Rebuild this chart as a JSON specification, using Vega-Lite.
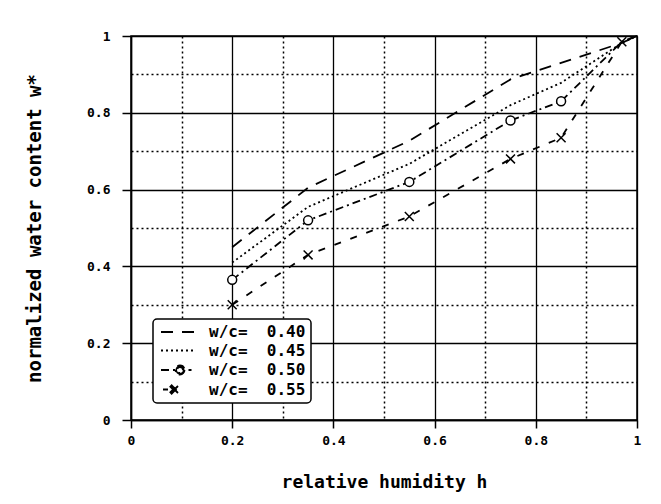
{
  "$schema": "https://vega.github.io/schema/vega-lite/v6.json",
  "width": 506,
  "height": 384,
  "autosize": "none",
  "padding": {"left": 131, "top": 36, "right": 24, "bottom": 84},
  "background": "white",
  "config": {
    "view": {"stroke": "black", "strokeWidth": 1.5},
    "font": "DejaVu Sans Mono"
  },
  "data": {
    "values": [
      {"s": "0.40", "h": 0.2, "w": 0.45},
      {"s": "0.40", "h": 0.35, "w": 0.605},
      {"s": "0.40", "h": 0.55, "w": 0.727},
      {"s": "0.40", "h": 0.75, "w": 0.887},
      {"s": "0.40", "h": 0.85, "w": 0.93},
      {"s": "0.40", "h": 0.97, "w": 0.982},
      {"s": "0.40", "h": 1.0, "w": 1.0},
      {"s": "0.45", "h": 0.2, "w": 0.41},
      {"s": "0.45", "h": 0.35, "w": 0.555},
      {"s": "0.45", "h": 0.55, "w": 0.667},
      {"s": "0.45", "h": 0.75, "w": 0.82},
      {"s": "0.45", "h": 0.85, "w": 0.878},
      {"s": "0.45", "h": 0.97, "w": 0.982},
      {"s": "0.45", "h": 1.0, "w": 1.0},
      {"s": "0.50", "h": 0.2, "w": 0.365},
      {"s": "0.50", "h": 0.35, "w": 0.52},
      {"s": "0.50", "h": 0.55, "w": 0.62},
      {"s": "0.50", "h": 0.75, "w": 0.78},
      {"s": "0.50", "h": 0.85, "w": 0.83},
      {"s": "0.50", "h": 0.97, "w": 0.985},
      {"s": "0.50", "h": 1.0, "w": 1.0},
      {"s": "0.55", "h": 0.2, "w": 0.3},
      {"s": "0.55", "h": 0.35, "w": 0.43},
      {"s": "0.55", "h": 0.55, "w": 0.53},
      {"s": "0.55", "h": 0.75, "w": 0.68},
      {"s": "0.55", "h": 0.85, "w": 0.735},
      {"s": "0.55", "h": 0.97, "w": 0.985},
      {"s": "0.55", "h": 1.0, "w": 1.0}
    ]
  },
  "encoding": {
    "x": {
      "field": "h",
      "type": "quantitative",
      "scale": {"domain": [0, 1], "nice": false},
      "axis": {
        "title": "relative humidity h",
        "titleFont": "DejaVu Sans Mono",
        "titleFontSize": 18,
        "titleFontWeight": "bold",
        "titleColor": "black",
        "titlePadding": 26,
        "values": [0, 0.1, 0.2, 0.3, 0.4, 0.5, 0.6, 0.7, 0.8, 0.9, 1.0],
        "labelExpr": "round(datum.value*10) % 2 === 0 ? format(datum.value, '~g') : ''",
        "labelFont": "DejaVu Sans Mono",
        "labelFontSize": 13,
        "labelFontWeight": "bold",
        "labelColor": "black",
        "labelPadding": 6,
        "labelFlush": false,
        "grid": true,
        "gridColor": "black",
        "gridOpacity": 1,
        "gridDash": {"condition": {"test": "round(datum.value*10) % 2 === 1", "value": [2, 3]}, "value": []},
        "gridWidth": {"condition": {"test": "round(datum.value*10) % 2 === 1", "value": 1.5}, "value": 1.3},
        "tickColor": "black",
        "tickSize": 8,
        "tickWidth": 1.5,
        "tickOpacity": {"condition": {"test": "round(datum.value*10) % 2 === 1", "value": 0}, "value": 1},
        "domainColor": "black",
        "domainWidth": 1.5
      }
    },
    "y": {
      "field": "w",
      "type": "quantitative",
      "scale": {"domain": [0, 1], "nice": false},
      "axis": {
        "title": "normalized water content w*",
        "titleFont": "DejaVu Sans Mono",
        "titleFontSize": 19,
        "titleFontWeight": "bold",
        "titleColor": "black",
        "titlePadding": 42,
        "values": [0, 0.1, 0.2, 0.3, 0.4, 0.5, 0.6, 0.7, 0.8, 0.9, 1.0],
        "labelExpr": "round(datum.value*10) % 2 === 0 ? format(datum.value, '~g') : ''",
        "labelFont": "DejaVu Sans Mono",
        "labelFontSize": 13,
        "labelFontWeight": "bold",
        "labelColor": "black",
        "labelPadding": 12,
        "labelFlush": false,
        "grid": true,
        "gridColor": "black",
        "gridOpacity": 1,
        "gridDash": {"condition": {"test": "round(datum.value*10) % 2 === 1", "value": [2, 3]}, "value": []},
        "gridWidth": {"condition": {"test": "round(datum.value*10) % 2 === 1", "value": 1.5}, "value": 1.3},
        "tickColor": "black",
        "tickSize": 9,
        "tickWidth": 1.5,
        "tickOpacity": {"condition": {"test": "round(datum.value*10) % 2 === 1", "value": 0}, "value": 1},
        "domainColor": "black",
        "domainWidth": 1.5
      }
    }
  },
  "layer": [
    {
      "mark": {"type": "line", "color": "black", "strokeWidth": 1.8},
      "encoding": {
        "strokeDash": {
          "field": "s",
          "type": "nominal",
          "scale": {
            "domain": ["0.40", "0.45", "0.50", "0.55"],
            "range": [[12, 9], [2, 3], [8, 4, 2, 4], [7, 10]]
          },
          "legend": {
            "title": null,
            "orient": "none",
            "legendX": 22,
            "legendY": 283,
            "direction": "vertical",
            "symbolSize": 100,
            "symbolStrokeWidth": 1.8,
            "symbolStrokeColor": "black",
            "labelExpr": "'w/c=\u00a0\u00a0' + datum.label",
            "labelFont": "DejaVu Sans Mono",
            "labelFontSize": 16,
            "labelFontWeight": "bold",
            "labelColor": "black",
            "labelOffset": 35,
            "rowPadding": 2.5,
            "padding": 5,
            "strokeColor": "black",
            "cornerRadius": 4,
            "fillColor": "white",
            "encode": {
              "legend": {"update": {"strokeWidth": {"value": 1.5}}},
              "symbols": {
                "update": {
                  "shape": {"signal": "datum.value === '0.50' ? 'M-1,0H2M3.7,0A0.9,0.9 0 1 1 1.9,0A0.9,0.9 0 1 1 3.7,0ZM3.4,0A0.6,0.6 0 1 0 2.2,0A0.6,0.6 0 1 0 3.4,0ZM4.5,0H5.1' : datum.value === '0.55' ? 'M-0.6,0H0.4M1.127,-0.827L2.527,0.573L2.273,0.827L0.873,-0.573ZM0.873,0.573L2.273,-0.827L2.527,-0.573L1.127,0.827Z' : 'M-1,0H6'"},
                  "stroke": {"value": "black"},
                  "strokeWidth": {"value": 1.8},
                  "fill": {"value": "black"},
                  "fillOpacity": {"value": 1},
                  "opacity": {"value": 1}
                }
              }
            }
          }
        }
      }
    },
    {
      "transform": [
        {"filter": "(datum.s === '0.50' && datum.h < 0.9) || (datum.s === '0.55' && datum.h < 1)"}
      ],
      "mark": {"type": "point", "filled": false, "fill": "white", "fillOpacity": 1, "stroke": "black", "strokeWidth": 1.5, "opacity": 1, "size": 80},
      "encoding": {
        "shape": {
          "field": "s",
          "type": "nominal",
          "scale": {"domain": ["0.50", "0.55"], "range": ["circle", "M-1,-1L1,1M-1,1L1,-1"]},
          "legend": null
        }
      }
    }
  ]
}
